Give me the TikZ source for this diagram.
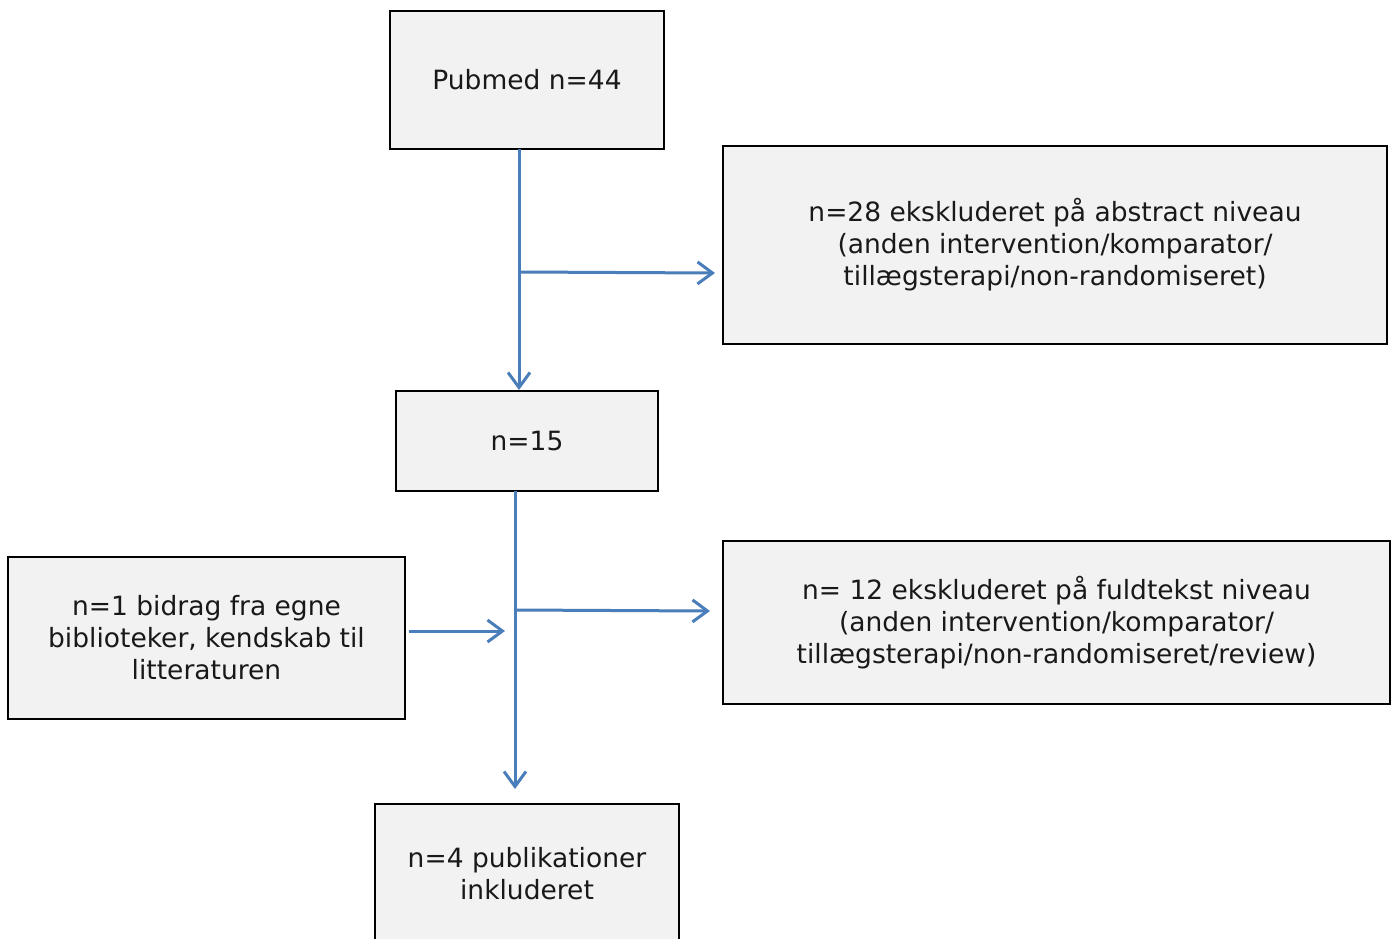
\documentclass[tikz,border=0pt]{standalone}
\usepackage{fontspec}
\setmainfont{DejaVu Sans}
\usetikzlibrary{arrows.meta}
\definecolor{arrowblue}{HTML}{4A7EBB}
\definecolor{boxfill}{HTML}{F2F2F2}
\tikzset{
  txt/.style={font=\fontsize{26.5}{32}\selectfont, text=black!90},
  box/.style={draw=black, line width=1.5pt, fill=boxfill, inner sep=0pt, align=center, txt},
  flow/.style={draw=arrowblue, line width=3pt, -{Straight Barb[length=15pt, width=22pt, line width=3pt]}},
}
\begin{document}
\begin{tikzpicture}[x=1pt, y=-1pt]
\clip (0,0) rectangle (1396,938);
\fill[white] (0,0) rectangle (1396,938);
\node[box, minimum width=274pt, minimum height=138pt] (pub) at (527,80) {Pubmed n=44};
\node[box, minimum width=664pt, minimum height=198pt] (ex1) at (1055,245) {n=28 ekskluderet på abstract niveau\\(anden intervention/komparator/\\tillægsterapi/non-randomiseret)};
\node[box, minimum width=262pt, minimum height=100pt] (n15) at (527,441) {n=15};
\node[box, minimum width=397pt, minimum height=162pt] (lit) at (206.5,638) {n=1 bidrag fra egne\\biblioteker, kendskab til\\litteraturen};
\node[box, minimum width=667pt, minimum height=163pt] (ex2) at (1056.5,622.5) {n= 12 ekskluderet på fuldtekst niveau\\(anden intervention/komparator/\\tillægsterapi/non-randomiseret/review)};
\node[box, minimum width=304pt, minimum height=170pt, anchor=north] (inc) at (527,803) {};
\node[align=center, txt] (inctext) at (527,874) {n=4 publikationer\\inkluderet};
\coordinate (a1) at (519,149);
\coordinate (a1e) at (519,390);
\coordinate (b1) at (521,272);
\coordinate (b1e) at (715,273);
\coordinate (a2) at (515,491);
\coordinate (a2e) at (515,789);
\coordinate (b2) at (517,610);
\coordinate (b2e) at (710,611);
\coordinate (c1) at (409,631);
\coordinate (c1e) at (505,631);
\draw[flow] (a1) -- (a1e);
\draw[flow] (b1) -- (b1e);
\draw[flow] (a2) -- (a2e);
\draw[flow] (b2) -- (b2e);
\draw[flow] (c1) -- (c1e);
\end{tikzpicture}
\end{document}
